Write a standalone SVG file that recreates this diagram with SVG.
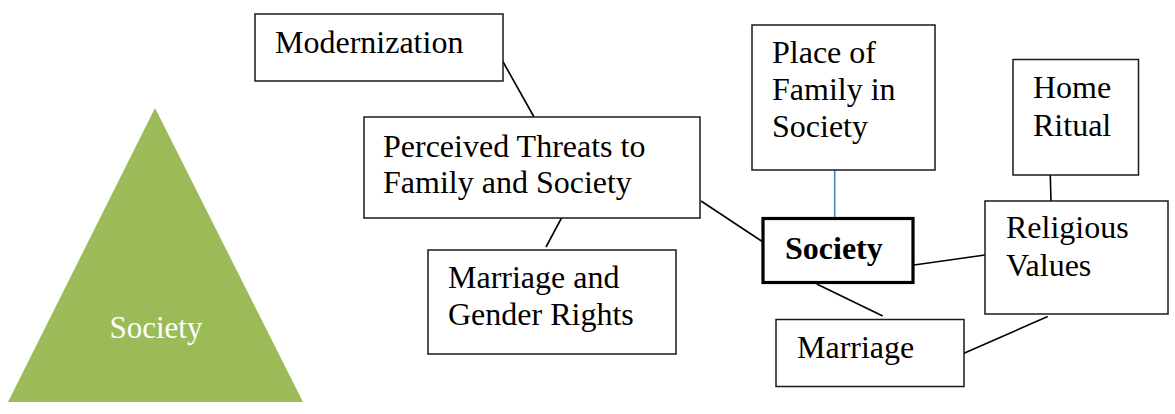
<svg xmlns="http://www.w3.org/2000/svg" width="1175" height="414" viewBox="0 0 1175 414">
  <style>
    .box { fill: #ffffff; stroke: #1a1a1a; stroke-width: 1.5; }
    .main { fill: #ffffff; stroke: #000000; stroke-width: 3.2; }
    .lbl { font-family: "Liberation Serif", "Times New Roman", serif; font-size: 32px; fill: #000000; }
    .bold { font-weight: bold; }
    .link { stroke: #000000; stroke-width: 1.6; fill: none; }
    .blue { stroke: #4f81bd; stroke-width: 1.6; fill: none; }
  </style>
  <rect width="1175" height="414" fill="#ffffff"/>

  <!-- emblem triangle -->
  <g id="emblem">
    <polygon points="155,108 8,402 303,402" fill="#9bbb59"/>
    <text x="156" y="338" text-anchor="middle" font-family="Liberation Serif, serif" font-size="31" fill="#ffffff">Society</text>
  </g>

  <!-- connectors -->
  <g id="connectors">
    <line class="link" x1="502" y1="60" x2="534" y2="117"/>
    <line class="link" x1="561.5" y1="218" x2="546" y2="247"/>
    <line class="link" x1="701" y1="201" x2="763" y2="242"/>
    <line class="blue" x1="834.7" y1="170" x2="834.7" y2="218"/>
    <line class="link" x1="1049.3" y1="139" x2="1051" y2="201"/>
    <line class="link" x1="914" y1="265" x2="985" y2="255"/>
    <line class="link" x1="816.7" y1="284" x2="882.7" y2="316"/>
    <line class="link" x1="964" y1="353.3" x2="1047.7" y2="316.5"/>
  </g>

  <g id="modernization">
    <rect class="box" x="255" y="14" width="248" height="67"/>
    <text class="lbl" x="275" y="53">Modernization</text>
  </g>

  <g id="threats">
    <rect class="box" x="364" y="117" width="336" height="101"/>
    <text class="lbl" x="383" y="157">Perceived Threats to</text>
    <text class="lbl" x="383" y="193">Family and Society</text>
  </g>

  <g id="gender-rights">
    <rect class="box" x="428" y="250" width="248" height="104"/>
    <text class="lbl" x="448" y="288">Marriage and</text>
    <text class="lbl" x="448" y="325">Gender Rights</text>
  </g>

  <g id="place-of-family">
    <rect class="box" x="752" y="25" width="183" height="145"/>
    <text class="lbl" x="772" y="63">Place of</text>
    <text class="lbl" x="772" y="100">Family in</text>
    <text class="lbl" x="772" y="137">Society</text>
  </g>

  <g id="society">
    <rect class="main" x="763" y="218.5" width="150" height="64"/>
    <text class="lbl bold" x="785" y="259">Society</text>
  </g>

  <g id="home-ritual">
    <rect class="box" x="1013" y="59.5" width="125.5" height="115.5"/>
    <text class="lbl" x="1033" y="98">Home</text>
    <text class="lbl" x="1033" y="136">Ritual</text>
  </g>

  <g id="religious-values">
    <rect class="box" x="985" y="201" width="183" height="113"/>
    <text class="lbl" x="1006" y="238">Religious</text>
    <text class="lbl" x="1006" y="276">Values</text>
  </g>

  <g id="marriage">
    <rect class="box" x="776" y="319.5" width="188" height="67"/>
    <text class="lbl" x="797" y="358">Marriage</text>
  </g>
</svg>
